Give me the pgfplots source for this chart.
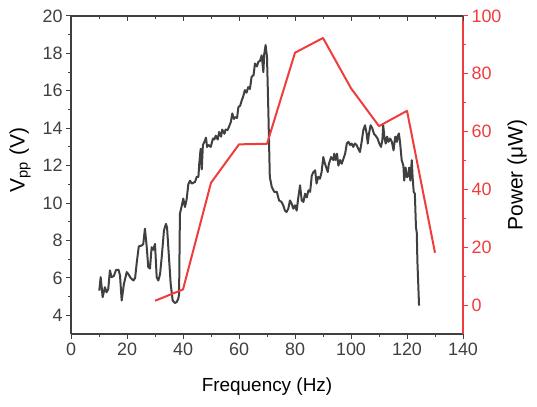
\documentclass[border=0pt]{standalone}
\usepackage{fontspec}
\setmainfont{Liberation Sans}
\usepackage{pgfplots}
\pgfplotsset{compat=1.18}
\definecolor{dgray}{RGB}{64,64,64}
\definecolor{pred}{RGB}{240,60,60}
\pgfplotstableread{
f V
10.1 5.32
10.6 6.04
11.3 4.97
12.1 5.5
12.7 5.23
13.3 5.4
13.9 6.4
14.5 6.04
15.3 6.1
16.1 6.43
17.0 6.43
17.5 6.13
18.1 4.79
18.9 5.68
19.9 6.31
20.5 6.2
21.3 6.0
22.3 5.86
22.9 6.0
23.5 6.84
24.2 7.68
25.2 7.73
25.8 7.8
26.4 8.63
27.0 7.73
27.6 6.57
28.2 6.5
28.8 7.64
29.4 7.5
30.0 7.82
30.6 6.04
31.2 5.86
31.8 6.2
32.4 7.11
33.2 8.54
33.9 8.89
34.3 8.7
34.9 7.29
35.6 5.68
36.3 4.79
37.1 4.66
37.7 4.7
38.3 4.88
38.6 5.1
38.9 9.43
39.6 9.88
40.1 10.24
40.7 9.79
41.3 10.2
41.9 11.0
42.5 11.2
43.1 11.04
44.3 11.13
44.9 11.4
45.5 11.4
45.8 12.1
46.3 12.9
46.7 11.8
47.1 13.1
47.9 13.36
48.2 13.5
48.6 13.0
49.2 13.1
49.9 13.0
50.7 13.45
51.2 13.4
51.7 13.6
52.4 13.4
52.9 13.8
53.6 13.55
54.0 13.93
54.8 13.7
55.2 13.93
55.9 13.9
56.4 14.07
57.1 14.34
57.6 14.79
58.2 14.5
58.8 14.6
59.3 14.55
59.8 15.14
60.4 15.2
61.0 15.5
61.5 15.7
62.1 16.04
62.7 15.9
63.3 16.2
63.9 16.1
64.5 16.75
65.2 16.84
65.7 17.46
66.4 17.3
66.9 17.55
67.5 17.6
68.1 17.9
68.7 17.0
69.0 17.95
69.5 18.45
70.0 17.8
70.5 14.8
71.0 11.4
71.7 10.86
72.6 10.6
73.5 10.6
74.3 10.14
75.2 10.06
75.8 9.88
76.4 9.6
77.0 9.52
77.6 9.7
78.2 10.14
78.8 9.97
79.4 9.7
80.0 9.88
80.6 9.6
81.2 10.32
81.8 10.95
82.4 10.14
83.0 10.06
83.6 10.5
84.2 10.3
84.8 10.68
85.4 10.6
86.0 11.48
86.6 11.66
87.2 11.75
87.7 11.04
88.3 11.4
88.9 11.3
89.5 11.66
90.1 12.46
90.7 12.1
91.3 11.84
91.7 11.66
92.1 12.1
92.9 12.46
93.7 12.3
94.0 12.64
94.5 12.3
95.0 12.64
95.5 12.0
96.1 12.3
96.7 12.1
97.3 12.37
97.9 12.64
98.5 13.18
99.1 13.27
99.7 13.1
100.2 13.18
100.8 13.0
101.4 13.18
102.0 13.1
102.6 12.9
103.2 12.73
103.8 13.27
104.4 13.9
105.0 14.16
105.6 13.7
106.0 13.18
106.4 13.7
107.0 14.16
107.6 14.0
108.2 13.7
108.8 13.6
109.5 13.45
110.1 13.18
110.7 13.0
111.2 13.36
111.5 14.16
111.9 13.55
112.4 13.18
112.9 13.55
113.4 13.27
114.0 13.45
114.6 13.27
115.2 12.82
115.8 13.55
116.4 13.27
116.7 13.6
117.1 13.72
117.5 13.27
118.1 12.29
118.7 12.0
119.0 11.2
119.5 11.9
120.0 11.38
120.5 11.45
120.8 11.9
121.2 11.2
121.7 12.29
122.0 11.38
122.4 10.6
122.8 10.5
123.2 8.71
123.5 8.4
123.7 6.93
124.3 4.52
}\vpptable
\pgfplotstableread{
f P
30 1.5
40 5.4
50 42.3
60 55.6
70 55.8
80 87.3
90 92.4
100 75.0
110 61.9
120 67.2
130 18.1
}\powertable
\begin{document}
\begin{tikzpicture}[x=1bp,y=1bp]
\useasboundingbox (0,0) rectangle (537,406);
\pgfplotsset{common/.style={
  scale only axis, width=392bp, height=318bp,
  at={(71bp,72bp)}, anchor=south west,
  xmin=0, xmax=140, xtick={0,20,...,140}, minor x tick num=1,
  /pgf/number format/assume math mode=true,
  tick label style={font=\fontsize{18}{21}\selectfont},
  major tick length=5bp, minor tick length=3bp,
  axis line style={line width=1.2bp},
  label style={font=\fontsize{21}{25}\selectfont},
}}
\begin{axis}[common,
  axis x line*=bottom, axis y line*=left, tick align=outside,
  ymin=3, ymax=20, ytick={4,6,...,20}, minor y tick num=1,
  axis line style={dgray}, tick style={dgray, line width=1bp},
  tick label style={dgray},
  xlabel={Frequency (Hz)}, ylabel={V\textsubscript{pp} (V)},
  xlabel style={at={(axis description cs:0.5,-0.166)}, anchor=center, font=\fontsize{19}{23}\selectfont},
  ylabel style={at={(axis description cs:-0.130,0.547)}, anchor=center},
]
\addplot[dgray, line width=2bp, line join=round] table[x=f, y=V] {\vpptable};
\end{axis}
\begin{axis}[common,
  axis x line=none, axis y line*=right, tick align=outside,
  ymin=-10, ymax=100, ytick={0,20,...,100}, minor y tick num=1,
  axis line style={pred}, tick style={pred, line width=1bp},
  yticklabel style={pred},
  ylabel={Power (μW)},
  ylabel style={at={(axis description cs:1.138,0.5)}, anchor=center, black},
]
\addplot[pred, line width=2bp, line join=round] table[x=f, y=P] {\powertable};
\end{axis}
\begin{axis}[common,
  axis x line*=top, axis y line=none, tick align=inside,
  ymin=0, ymax=1, xticklabels={},
  axis line style={dgray}, tick style={dgray, line width=1bp},
]
\end{axis}
\end{tikzpicture}
\end{document}
